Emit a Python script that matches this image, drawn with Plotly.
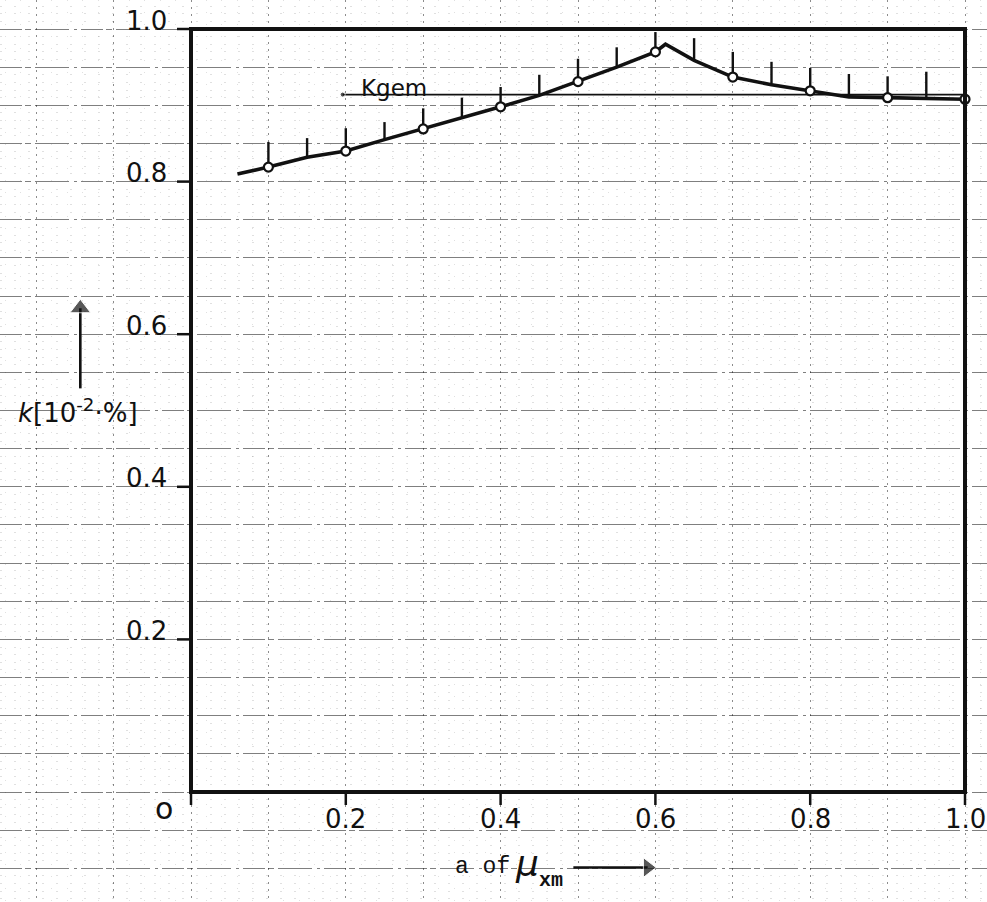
import plotly.graph_objects as go

# Measured k values at the sampled fractions a of mu_xm
meas_x = [0.1, 0.2, 0.3, 0.4, 0.5, 0.6, 0.7, 0.8, 0.9, 1.0]
meas_y = [0.819, 0.840, 0.869, 0.898, 0.931, 0.970, 0.937, 0.919, 0.910, 0.908]

# Drawn curve through the measurements (with its peak near 0.613)
curve_x = [0.06, 0.1, 0.15, 0.2, 0.25, 0.3, 0.35, 0.4, 0.45, 0.5, 0.55, 0.6,
           0.613, 0.65, 0.7, 0.75, 0.8, 0.85, 0.9, 0.95, 1.0]
curve_y = [0.810, 0.819, 0.832, 0.840, 0.855, 0.869, 0.883, 0.898, 0.913, 0.931,
           0.950, 0.970, 0.980, 0.959, 0.937, 0.927, 0.919, 0.911, 0.910, 0.909, 0.908]

# Short hatch strokes standing on the curve
hatch_x = [0.1, 0.15, 0.2, 0.25, 0.3, 0.35, 0.4, 0.45, 0.5, 0.55, 0.6,
           0.65, 0.7, 0.75, 0.8, 0.85, 0.9, 0.95]
hatch_lo = [0.819, 0.832, 0.841, 0.855, 0.869, 0.883, 0.898, 0.913, 0.931, 0.950, 0.970,
            0.959, 0.937, 0.927, 0.919, 0.911, 0.910, 0.909]
hatch_hi = [0.852, 0.857, 0.870, 0.878, 0.896, 0.910, 0.924, 0.940, 0.961, 0.976, 0.996,
            0.988, 0.970, 0.957, 0.949, 0.941, 0.938, 0.944]

# Mean value k_gem
kgem_value = 0.914
kgem_x = [0.196, 1.0]

x_ticks = [0.2, 0.4, 0.6, 0.8, 1.0]
x_tick_labels = ["0.2", "0.4", "0.6", "0.8", "1.0"]
y_ticks = [0.2, 0.4, 0.6, 0.8, 1.0]
y_tick_labels = ["0.2", "0.4", "0.6", "0.8", "1.0"]

W, H = 987, 902
X0_PX, X_SCALE = 191, 774      # pixel of x=0, pixels per unit
Y0_PX, Y_SCALE = 792, 763      # pixel of y=0, pixels per unit
x_range = [-X0_PX / X_SCALE, (W - X0_PX) / X_SCALE]
y_range = [(Y0_PX - H) / Y_SCALE, Y0_PX / Y_SCALE]
px_x = 1.0 / X_SCALE
px_y = 1.0 / Y_SCALE

INK = "#111"
hand_font = dict(family="DejaVu Sans", size=26, color=INK)

fig = go.Figure()

# k_gem reference line
fig.add_trace(go.Scatter(
    x=kgem_x, y=[kgem_value] * len(kgem_x), mode="lines+markers",
    line=dict(color=INK, width=1.8),
    marker=dict(size=[5, 0], color=INK),
    hoverinfo="skip", showlegend=False))

# hatch strokes
hx, hy = [], []
for x, lo, hi in zip(hatch_x, hatch_lo, hatch_hi):
    hx += [x, x, None]
    hy += [lo, hi, None]
fig.add_trace(go.Scatter(
    x=hx, y=hy, mode="lines", line=dict(color=INK, width=2.4),
    hoverinfo="skip", showlegend=False))

# curve
fig.add_trace(go.Scatter(
    x=curve_x, y=curve_y, mode="lines",
    line=dict(color=INK, width=3.6),
    hoverinfo="skip", showlegend=False))

# measured points
fig.add_trace(go.Scatter(
    x=meas_x, y=meas_y, mode="markers",
    marker=dict(symbol="circle", size=9, color="white",
                line=dict(color=INK, width=2.2)),
    showlegend=False))

# axis-title arrows: shafts and heads
y_arrow_x, y_arrow_y = -0.143, [0.529, 0.634]
x_arrow_y, x_arrow_x = -0.099, [0.494, 0.590]
fig.add_trace(go.Scatter(
    x=[y_arrow_x, y_arrow_x, None] + x_arrow_x,
    y=y_arrow_y + [None, x_arrow_y, x_arrow_y],
    mode="lines", line=dict(color=INK, width=2.6),
    hoverinfo="skip", showlegend=False))
fig.add_trace(go.Scatter(
    x=[y_arrow_x, x_arrow_x[1]], y=[y_arrow_y[1], x_arrow_y],
    mode="markers",
    marker=dict(symbol=["triangle-up", "triangle-right"], size=[18, 17], color=INK),
    hoverinfo="skip", showlegend=False))

shapes = []
# frame
shapes.append(dict(type="rect", xref="x", yref="y", x0=0, x1=1, y0=0, y1=1,
                   line=dict(color=INK, width=4), layer="above"))
# x tick marks (including the corner extension)
for t in [0.0] + x_ticks:
    shapes.append(dict(type="line", xref="x", yref="y", x0=t, x1=t,
                       y0=0, y1=-13 * px_y, line=dict(color=INK, width=2.5),
                       layer="above"))
# y tick marks
for t in y_ticks:
    shapes.append(dict(type="line", xref="x", yref="y", x0=0, x1=-14 * px_x,
                       y0=t, y1=t, line=dict(color=INK, width=2.5),
                       layer="above"))

annotations = []
for t, lab in zip(x_ticks, x_tick_labels):
    annotations.append(dict(x=t, y=-0.035, xref="x", yref="y", text=lab,
                            showarrow=False, font=hand_font,
                            xanchor="center", yanchor="middle"))
for t, lab in zip(y_ticks, y_tick_labels):
    annotations.append(dict(x=-0.058, y=t + 0.011, xref="x", yref="y", text=lab,
                            showarrow=False, font=hand_font,
                            xanchor="center", yanchor="middle"))
annotations.append(dict(x=-0.035, y=-0.022, xref="x", yref="y", text="o",
                        showarrow=False, font=dict(family="DejaVu Sans", size=30, color=INK),
                        xanchor="center", yanchor="middle"))

# k_gem label
annotations.append(dict(x=0.262, y=0.923, xref="x", yref="y", text="Kgem",
                        showarrow=False,
                        font=dict(family="DejaVu Sans", size=23, color=INK),
                        xanchor="center", yanchor="middle"))

# y-axis title
annotations.append(dict(x=-0.146, y=0.500, xref="x", yref="y",
                        text="<i>k</i>[10<sup>-2</sup>·%]",
                        showarrow=False,
                        font=dict(family="DejaVu Sans", size=26, color=INK),
                        xanchor="center", yanchor="middle"))

# x-axis title
annotations.append(dict(x=0.376, y=-0.098, xref="x", yref="y", text="a of",
                        showarrow=False,
                        font=dict(family="Liberation Mono", size=23, color=INK),
                        xanchor="center", yanchor="middle"))
annotations.append(dict(x=0.434, y=-0.094, xref="x", yref="y", text="<i>μ</i>",
                        showarrow=False,
                        font=dict(family="DejaVu Sans", size=36, color=INK),
                        xanchor="center", yanchor="middle"))
annotations.append(dict(x=0.465, y=-0.116, xref="x", yref="y", text="<b>xm</b>",
                        showarrow=False,
                        font=dict(family="Liberation Mono", size=20, color=INK),
                        xanchor="center", yanchor="middle"))

fig.update_layout(
    width=W, height=H, autosize=False,
    margin=dict(l=0, r=0, t=0, b=0),
    paper_bgcolor="white", plot_bgcolor="white",
    shapes=shapes, annotations=annotations,
    xaxis=dict(range=x_range, tick0=0, dtick=0.1, showgrid=True,
               gridcolor="rgba(0,0,0,0.45)", griddash="2px,5px", gridwidth=1.2,
               minor=dict(dtick=0.02, showgrid=True, gridcolor="rgba(0,0,0,0.12)",
                          griddash="1px,11px", gridwidth=1),
               zeroline=False, showticklabels=False, showline=False, ticks="",
               fixedrange=True),
    yaxis=dict(range=y_range, tick0=0, dtick=0.05, showgrid=True,
               gridcolor="rgba(0,0,0,0.5)",
               griddash="22px,3px,6px,4px,34px,5px,3px,4px", gridwidth=1.4,
               minor=dict(dtick=0.01, showgrid=True, gridcolor="rgba(0,0,0,0.12)",
                          griddash="2px,12px", gridwidth=1),
               zeroline=False, showticklabels=False, showline=False, ticks="",
               fixedrange=True),
)

fig.write_html("out.html")
